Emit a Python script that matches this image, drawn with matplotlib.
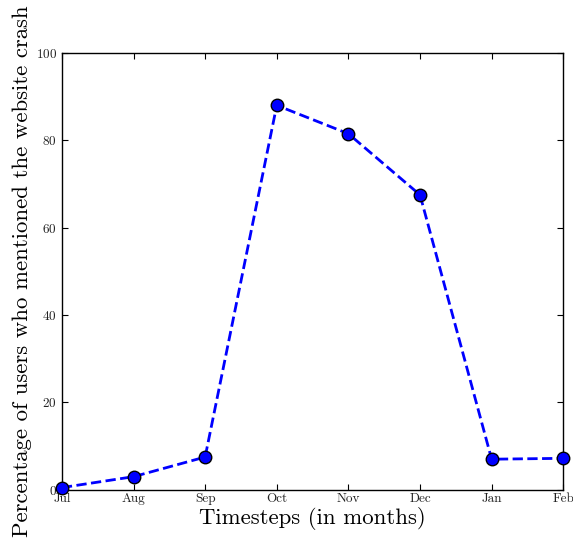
import matplotlib
matplotlib.use('Agg')
import matplotlib.pyplot as plt

months = ['Jul', 'Aug', 'Sep', 'Oct', 'Nov', 'Dec', 'Jan', 'Feb']
percent = [0.5, 3.0, 7.5, 88.0, 81.5, 67.5, 7.0, 7.2]

plt.rcParams['font.family'] = ['cmr10', 'DejaVu Serif']
plt.rcParams['axes.formatter.use_mathtext'] = True

fig = plt.figure(figsize=(5.73, 5.4), dpi=100)
ax = fig.add_axes([0.108, 0.093, 0.875, 0.809])

x = range(len(months))
ax.plot(x, percent, 'o--', color='blue', lw=2, ms=9,
        markeredgecolor='black', markeredgewidth=1, clip_on=False, zorder=3)

ax.set_xlim(0, len(months) - 1)
ax.set_ylim(0, 100)
ax.set_xticks(list(x))
ax.set_xticklabels(months)
ax.set_yticks([0, 20, 40, 60, 80, 100])
ax.tick_params(direction='in', top=True, right=True, length=4, labelsize=9.5,
               colors='black', labelcolor='#222222')
ax.tick_params(axis='x', pad=2)
for s in ax.spines.values():
    s.set_linewidth(1)

ax.set_xlabel('Timesteps (in months)', fontsize=16.4, labelpad=2)
ax.set_ylabel('Percentage of users who mentioned the website crash', fontsize=16.4, labelpad=3)

plt.savefig('out.png', dpi=100)
